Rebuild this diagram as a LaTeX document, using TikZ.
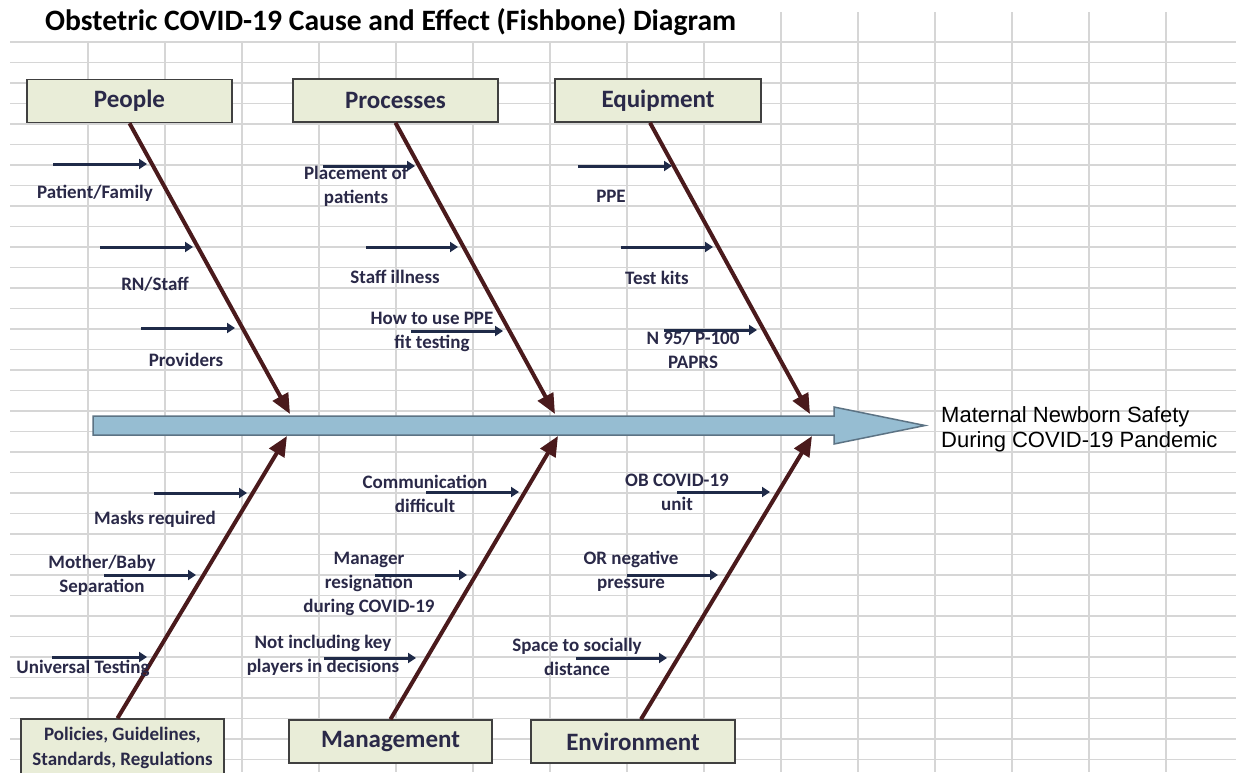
\documentclass[tikz,border=0pt]{standalone}
\usepackage{fontspec}
\setmainfont{Carlito}
\newfontfamily\arialfont{Liberation Sans}
\usetikzlibrary{arrows.meta}

\definecolor{gridgray}{HTML}{D6D6D6}
\definecolor{boxfill}{HTML}{E9EDD8}
\definecolor{boxline}{HTML}{404040}
\definecolor{inkblue}{HTML}{2A2948}
\definecolor{arrowblue}{HTML}{1F2A48}
\definecolor{bonered}{HTML}{4A1A1C}
\definecolor{spinefill}{HTML}{96BDD2}
\definecolor{spineline}{HTML}{5C7384}

\begin{document}
\begin{tikzpicture}[
    x=1pt, y=-1pt,
    gridline/.style={draw=gridgray, line width=1.4pt},
    catbox/.style={draw=boxline, line width=1.5pt, fill=boxfill, minimum width=205pt, minimum height=43pt, inner sep=0pt, text=inkblue, font=\fontsize{25}{30}\selectfont\bfseries},
    bone/.style={draw=bonered, line width=4pt, -{Triangle[length=20pt,width=17pt]}},
    cause/.style={draw=arrowblue, line width=3pt, -{Triangle[length=8pt,width=10pt]}},
    causelabel/.style={text=inkblue, font=\fontsize{19}{24}\selectfont\bfseries, align=center, inner sep=0pt},
    spine/.style={draw=spineline, line width=1.5pt, fill=spinefill},
]

\useasboundingbox[fill=white] (0,0) rectangle (1236,772);

\foreach \k in {0,...,35}{
  \draw[gridline] (10,{42+20.5*\k}) -- (1236,{42+20.5*\k});
}
\foreach \x in {88,165,...,704}{
  \draw[gridline] (\x,42) -- (\x,772);
}
\foreach \x in {781,858,...,1166}{
  \draw[gridline] (\x,12) -- (\x,772);
}

\node[font=\fontsize{29.6}{34}\selectfont\bfseries, anchor=west, inner sep=0pt] (title) at (45,22.5) {Obstetric COVID-19 Cause and Effect (Fishbone) Diagram};

\node[catbox] (people) at (129.5,101) {\raisebox{-2pt}{People}};
\node[catbox] (processes) at (395.5,100.5) {\raisebox{-2pt}{Processes}};
\node[catbox, minimum width=206pt] (equipment) at (658,100.5) {\raisebox{-2pt}{Equipment}};
\node[catbox, minimum width=203pt, minimum height=57pt, align=center, font=\fontsize{19}{25}\selectfont\bfseries] (policies) at (122.5,747.5) {Policies, Guidelines,\\Standards, Regulations};
\node[catbox, minimum width=203pt] (management) at (390.5,741.5) {\raisebox{-2pt}{Management}};
\node[catbox, minimum width=204pt] (environment) at (633,741.5) {\raisebox{-2pt}{Environment}};

\draw[spine] (93,416) -- (834,416) -- (834,407) -- (925,425.5) -- (834,444) -- (834,435) -- (93,435) -- cycle;
\node[anchor=west, align=left, inner sep=0pt, font=\arialfont\fontsize{22}{25}\selectfont] (effect) at (941,429.5) {Maternal Newborn Safety\\During COVID-19 Pandemic};

\coordinate (peopletip) at (290,414);
\coordinate (processtip) at (555,414);
\coordinate (equiptip) at (810,414);
\coordinate (policytip) at (287,436);
\coordinate (managetip) at (558,436);
\coordinate (envirotip) at (812,436);

\draw[bone] (people.south) -- (peopletip);
\draw[bone] (processes.south) -- (processtip);
\draw[bone] ([xshift=-8pt]equipment.south) -- (equiptip);
\draw[bone] ([xshift=-5pt]policies.north) -- (policytip);
\draw[bone] (management.north) -- (managetip);
\draw[bone] ([xshift=8pt]environment.north) -- (envirotip);

\node[causelabel] (patfam) at (95,193) {Patient/Family};
\node[causelabel] (rnstaff) at (155,284) {RN/Staff};
\node[causelabel] (providers) at (186,360) {Providers};
\node[causelabel] (placement) at (356,186) {Placement of\\patients};
\node[causelabel] (illness) at (395,277) {Staff illness};
\node[causelabel] (howppe) at (432,331.5) {How to use PPE\\fit testing};
\node[causelabel] (ppe) at (611,196) {PPE};
\node[causelabel] (kits) at (657,278) {Test kits};
\node[causelabel] (respir) at (693,349.5) {N 95/ P-100\\PAPRS};
\node[causelabel] (masks) at (155,519) {Masks required};
\node[causelabel] (mobaby) at (102,575) {Mother/Baby\\Separation};
\node[causelabel] (universal) at (83,668) {Universal Testing};
\node[causelabel] (communic) at (425,493.5) {Communication\\difficult};
\node[causelabel] (manager) at (369,584) {Manager\\resignation\\during COVID-19};
\node[causelabel] (players) at (323,655.5) {Not including key\\players in decisions};
\node[causelabel] (obunit) at (677,492.5) {OB COVID-19\\unit};
\node[causelabel] (negpress) at (631,571.5) {OR negative\\pressure};
\node[causelabel] (distance) at (577,657) {Space to socially\\distance};

\coordinate (patfam-a) at (53,164);   \coordinate (patfam-b) at (147,164);
\coordinate (rnstaff-a) at (100,247); \coordinate (rnstaff-b) at (193,247);
\coordinate (providers-a) at (141,328); \coordinate (providers-b) at (235,328);
\coordinate (placement-a) at (323,166); \coordinate (placement-b) at (415,166);
\coordinate (illness-a) at (366,247); \coordinate (illness-b) at (458,247);
\coordinate (howppe-a) at (411,331); \coordinate (howppe-b) at (503,331);
\coordinate (ppe-a) at (578,166); \coordinate (ppe-b) at (672,166);
\coordinate (kits-a) at (621,247); \coordinate (kits-b) at (713,247);
\coordinate (respir-a) at (664,330); \coordinate (respir-b) at (757,330);
\coordinate (masks-a) at (154,493); \coordinate (masks-b) at (247,493);
\coordinate (mobaby-a) at (104,575); \coordinate (mobaby-b) at (196,575);
\coordinate (universal-a) at (52,657); \coordinate (universal-b) at (147,657);
\coordinate (communic-a) at (426,492); \coordinate (communic-b) at (519,492);
\coordinate (manager-a) at (375,575); \coordinate (manager-b) at (467,575);
\coordinate (players-a) at (324,658); \coordinate (players-b) at (416,658);
\coordinate (obunit-a) at (677,492); \coordinate (obunit-b) at (770,492);
\coordinate (negpress-a) at (627,575); \coordinate (negpress-b) at (718,575);
\coordinate (distance-a) at (576,658); \coordinate (distance-b) at (667,658);

\foreach \c in {patfam,rnstaff,providers,placement,illness,howppe,ppe,kits,respir,masks,mobaby,universal,communic,manager,players,obunit,negpress,distance}{
  \draw[cause] (\c-a) -- (\c-b);
}

\end{tikzpicture}
\end{document}
